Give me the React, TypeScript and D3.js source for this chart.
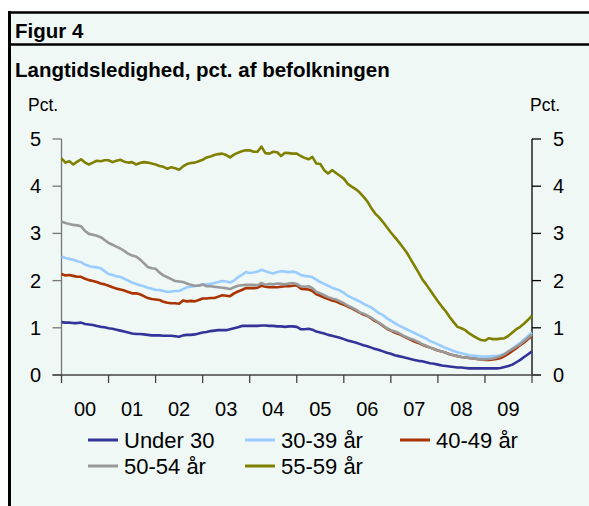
import React from "react";
import * as d3 from "d3";

const seriesNames = ["Under 30", "30-39 år", "40-49 år", "50-54 år", "55-59 år"];
const seriesColors = ["#333399", "#99ccff", "#aa3300", "#999999", "#808000"];

// Monthly observations, Jan 2000 .. Jan 2010
const under30 = [
  1.12, 1.11, 1.11, 1.10, 1.10, 1.11, 1.08, 1.07, 1.06, 1.04, 1.02, 1.01,
  0.99, 0.98, 0.96, 0.94, 0.92, 0.90, 0.88, 0.87, 0.87, 0.86, 0.85, 0.84,
  0.84, 0.84, 0.83, 0.83, 0.83, 0.82, 0.81, 0.84, 0.85, 0.85, 0.86, 0.88,
  0.90, 0.91, 0.93, 0.94, 0.95, 0.95, 0.95, 0.97, 0.99, 1.01, 1.04, 1.04,
  1.04, 1.04, 1.04, 1.05, 1.05, 1.04, 1.04, 1.03, 1.03, 1.02, 1.03, 1.03,
  1.02, 0.97, 0.97, 0.98, 0.96, 0.92, 0.90, 0.88, 0.85, 0.83, 0.81, 0.79,
  0.76, 0.73, 0.71, 0.69, 0.66, 0.63, 0.61, 0.58, 0.55, 0.53, 0.50, 0.47,
  0.45, 0.42, 0.40, 0.38, 0.36, 0.34, 0.32, 0.30, 0.29, 0.27, 0.25, 0.24,
  0.22, 0.20, 0.19, 0.18, 0.17, 0.16, 0.16, 0.15, 0.14, 0.14, 0.14, 0.14,
  0.14, 0.14, 0.14, 0.14, 0.15, 0.17, 0.19, 0.22, 0.27, 0.32, 0.38, 0.44,
  0.50,
];
const age3039 = [
  2.51, 2.48, 2.46, 2.44, 2.41, 2.39, 2.34, 2.31, 2.29, 2.28, 2.26, 2.20,
  2.14, 2.12, 2.09, 2.08, 2.04, 2.00, 1.96, 1.93, 1.90, 1.88, 1.85, 1.83,
  1.80, 1.80, 1.78, 1.76, 1.77, 1.78, 1.78, 1.82, 1.86, 1.87, 1.88, 1.90,
  1.91, 1.92, 1.93, 1.95, 1.97, 1.99, 1.98, 1.96, 2.00, 2.07, 2.12, 2.18,
  2.16, 2.17, 2.19, 2.23, 2.20, 2.17, 2.15, 2.18, 2.20, 2.19, 2.18, 2.19,
  2.17, 2.12, 2.10, 2.09, 2.07, 2.02, 1.97, 1.93, 1.89, 1.85, 1.82, 1.79,
  1.74, 1.68, 1.64, 1.60, 1.56, 1.51, 1.47, 1.43, 1.37, 1.31, 1.27, 1.20,
  1.15, 1.10, 1.05, 1.01, 0.97, 0.93, 0.89, 0.85, 0.81, 0.77, 0.72, 0.69,
  0.65, 0.61, 0.57, 0.54, 0.51, 0.48, 0.46, 0.44, 0.42, 0.41, 0.40, 0.39,
  0.39, 0.39, 0.40, 0.40, 0.42, 0.45, 0.50, 0.56, 0.62, 0.68, 0.75, 0.83,
  0.90,
];
const age4049 = [
  2.14, 2.11, 2.12, 2.10, 2.08, 2.08, 2.04, 2.01, 1.99, 1.97, 1.94, 1.92,
  1.89, 1.86, 1.83, 1.81, 1.79, 1.76, 1.73, 1.73, 1.71, 1.67, 1.63, 1.61,
  1.60, 1.59, 1.55, 1.53, 1.52, 1.52, 1.51, 1.58, 1.56, 1.57, 1.56, 1.59,
  1.62, 1.62, 1.63, 1.63, 1.66, 1.69, 1.68, 1.67, 1.73, 1.77, 1.80, 1.84,
  1.84, 1.84, 1.85, 1.89, 1.87, 1.86, 1.86, 1.86, 1.87, 1.88, 1.88, 1.89,
  1.90, 1.83, 1.82, 1.81, 1.78, 1.71, 1.68, 1.64, 1.61, 1.58, 1.56, 1.52,
  1.49, 1.45, 1.41, 1.37, 1.32, 1.28, 1.25, 1.20, 1.14, 1.10, 1.04, 0.98,
  0.94, 0.90, 0.87, 0.83, 0.79, 0.75, 0.71, 0.68, 0.64, 0.61, 0.58, 0.55,
  0.52, 0.50, 0.47, 0.44, 0.42, 0.40, 0.38, 0.37, 0.36, 0.35, 0.34, 0.33,
  0.32, 0.32, 0.33, 0.34, 0.36, 0.40, 0.45, 0.51, 0.57, 0.63, 0.69, 0.76,
  0.83,
];
const age5054 = [
  3.25, 3.22, 3.20, 3.18, 3.17, 3.15, 3.05, 2.99, 2.97, 2.95, 2.92, 2.86,
  2.80, 2.76, 2.72, 2.68, 2.63, 2.57, 2.53, 2.51, 2.45, 2.37, 2.29, 2.26,
  2.25, 2.17, 2.11, 2.07, 2.03, 1.99, 1.98, 1.97, 1.94, 1.91, 1.89, 1.89,
  1.92, 1.88, 1.88, 1.87, 1.86, 1.85, 1.84, 1.82, 1.86, 1.89, 1.90, 1.91,
  1.91, 1.91, 1.90, 1.95, 1.91, 1.93, 1.92, 1.94, 1.93, 1.92, 1.94, 1.95,
  1.93, 1.88, 1.87, 1.88, 1.84, 1.76, 1.73, 1.69, 1.65, 1.62, 1.60, 1.56,
  1.52, 1.47, 1.43, 1.39, 1.33, 1.30, 1.26, 1.21, 1.16, 1.10, 1.05, 0.99,
  0.95, 0.92, 0.89, 0.84, 0.80, 0.77, 0.74, 0.70, 0.65, 0.62, 0.58, 0.55,
  0.52, 0.50, 0.47, 0.44, 0.42, 0.40, 0.38, 0.37, 0.36, 0.35, 0.34, 0.33,
  0.33, 0.34, 0.35, 0.37, 0.40, 0.44, 0.50, 0.55, 0.60, 0.65, 0.72, 0.79,
  0.86,
];
const age5559 = [
  4.59, 4.50, 4.53, 4.46, 4.52, 4.57, 4.50, 4.46, 4.50, 4.54, 4.53, 4.55,
  4.55, 4.51, 4.54, 4.56, 4.52, 4.50, 4.51, 4.46, 4.49, 4.51, 4.50, 4.48,
  4.46, 4.43, 4.41, 4.37, 4.40, 4.38, 4.35, 4.42, 4.47, 4.49, 4.50, 4.53,
  4.56, 4.61, 4.63, 4.66, 4.68, 4.69, 4.66, 4.61, 4.67, 4.71, 4.74, 4.76,
  4.76, 4.73, 4.73, 4.84, 4.70, 4.69, 4.73, 4.72, 4.64, 4.71, 4.70, 4.69,
  4.69, 4.64, 4.60, 4.57, 4.62, 4.48, 4.47, 4.34, 4.27, 4.34, 4.28, 4.22,
  4.16, 4.05, 3.99, 3.94, 3.87, 3.78, 3.68, 3.54, 3.42, 3.34, 3.24, 3.13,
  3.02, 2.92, 2.82, 2.71, 2.60, 2.46, 2.32, 2.18, 2.03, 1.92, 1.80, 1.68,
  1.56, 1.45, 1.35, 1.23, 1.12, 1.02, 0.99, 0.95, 0.88, 0.83, 0.78, 0.74,
  0.73, 0.78, 0.76, 0.76, 0.77, 0.78, 0.83, 0.90, 0.97, 1.02, 1.09, 1.17,
  1.26,
];
const allSeries = [under30, age3039, age4049, age5054, age5559];

const yearLabels = ["00", "01", "02", "03", "04", "05", "06", "07", "08", "09"];
const yTicks = [0, 1, 2, 3, 4, 5];

const FONT = "'Liberation Sans', Arial, sans-serif";

export default function App() {
  const x = d3.scaleLinear().domain([2000, 2010]).range([61.5, 532]);
  const y = d3.scaleLinear().domain([0, 5]).range([375, 139]);
  const line = d3
    .line<number>()
    .x((_, i) => x(2000 + i / 12))
    .y((d) => y(d));

  const yearTicks = d3.range(2000, 2011);

  const legendItems = [
    { lx: 88, ly: 440 },
    { lx: 245, ly: 440 },
    { lx: 400, ly: 440 },
    { lx: 88, ly: 466 },
    { lx: 245, ly: 466 },
  ];

  return (
    <svg
      width={589}
      height={506}
      style={{ position: "absolute", left: 0, top: 0, fontFamily: FONT }}
    >
      <rect x={0} y={0} width={589} height={506} fill="#ffffff" />
      <rect x={10} y={12} width={579} height={494} fill="#eff8f5" />
      <line x1={9.5} y1={11} x2={9.5} y2={506} stroke="#000" strokeWidth={3} />
      <line x1={8} y1={12.5} x2={589} y2={12.5} stroke="#000" strokeWidth={2.5} />
      <line x1={8} y1={44.5} x2={589} y2={44.5} stroke="#000" strokeWidth={2.5} />

      <text x={15} y={38} fontSize={20.5} fontWeight="bold" fill="#000">
        Figur 4
      </text>
      <text x={15} y={77} fontSize={20.5} fontWeight="bold" fill="#000">
        Langtidsledighed, pct. af befolkningen
      </text>
      <text x={28} y={111} fontSize={17.5} fill="#000">
        Pct.
      </text>
      <text x={530} y={111} fontSize={17.5} fill="#000">
        Pct.
      </text>

      {/* left axis */}
      <line x1={x(2000)} y1={y(5)} x2={x(2000)} y2={y(0)} stroke="#777" strokeWidth={1.3} />
      {yTicks.map((t) => (
        <g key={"l" + t}>
          <line x1={x(2000) - 9} x2={x(2000)} y1={y(t)} y2={y(t)} stroke="#777" strokeWidth={1.3} />
          <text x={41} y={y(t) + 7} fontSize={20} textAnchor="end" fill="#000">
            {t}
          </text>
        </g>
      ))}

      {/* right axis */}
      <line x1={x(2010)} y1={y(5)} x2={x(2010)} y2={y(0)} stroke="#000" strokeWidth={1.3} />
      {yTicks.map((t) => (
        <g key={"r" + t}>
          <line x1={x(2010)} x2={x(2010) + 9} y1={y(t)} y2={y(t)} stroke="#000" strokeWidth={1.3} />
          <text x={553} y={y(t) + 7} fontSize={20} textAnchor="start" fill="#000">
            {t}
          </text>
        </g>
      ))}

      {/* bottom axis */}
      <line x1={x(2000) - 9} x2={x(2010) + 9} y1={y(0)} y2={y(0)} stroke="#444" strokeWidth={1.3} />
      {yearTicks.map((yr) => (
        <line key={"t" + yr} x1={x(yr)} x2={x(yr)} y1={y(0)} y2={y(0) + 8} stroke="#444" strokeWidth={1.3} />
      ))}
      {yearLabels.map((lab, i) => (
        <text key={lab} x={x(2000 + i + 0.5)} y={416} fontSize={20} textAnchor="middle" fill="#000">
          {lab}
        </text>
      ))}

      {/* series */}
      {allSeries.map((s, i) => (
        <path
          key={seriesNames[i]}
          d={line(s) || ""}
          fill="none"
          stroke={seriesColors[i]}
          strokeWidth={2.6}
          strokeLinejoin="round"
        />
      ))}

      {/* legend */}
      {seriesNames.map((name, i) => (
        <g key={"lg" + name}>
          <line
            x1={legendItems[i].lx}
            x2={legendItems[i].lx + 30}
            y1={legendItems[i].ly}
            y2={legendItems[i].ly}
            stroke={seriesColors[i]}
            strokeWidth={3}
          />
          <text x={legendItems[i].lx + 36} y={legendItems[i].ly + 8} fontSize={22} fill="#000">
            {name}
          </text>
        </g>
      ))}
    </svg>
  );
}
